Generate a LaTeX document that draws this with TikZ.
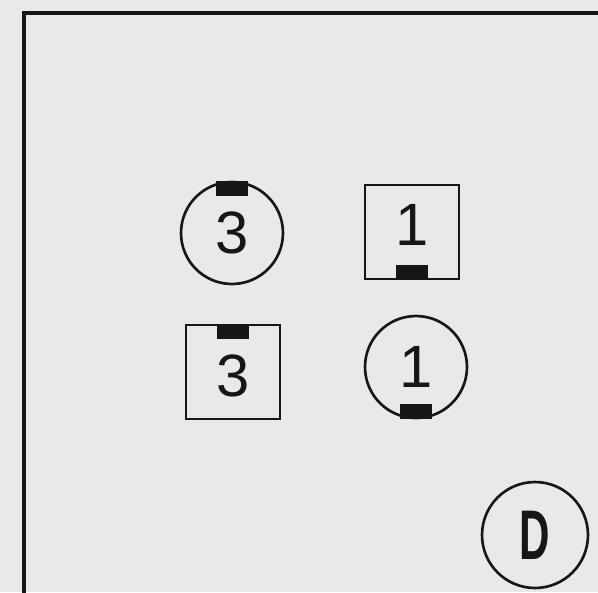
\documentclass[tikz,border=0pt]{standalone}
\usepackage{fontspec}
\setmainfont{Liberation Sans}
\usepackage{tikz}
\usetikzlibrary{positioning}
\definecolor{paper}{RGB}{233,233,233}
\definecolor{ink}{RGB}{22,22,22}
\tikzset{
  rnd/.style={circle, draw=ink, line width=1.5pt, minimum size=2.04cm, inner sep=0pt},
  sqr/.style={rectangle, draw=ink, line width=1.5pt, minimum size=1.88cm, inner sep=0pt},
  tab/.style={rectangle, fill=ink, minimum width=0.64cm, minimum height=0.3cm, inner sep=0pt},
  num/.style={font=\fontsize{34}{34}\selectfont, text=ink, inner sep=0pt},
  frm/.style={draw=ink, line width=2.2pt}
}

\begin{document}
\begin{tikzpicture}[x=0.02cm, y=-0.02cm]
        \fill[paper] (0,0) rectangle (598,592);
        \useasboundingbox (0,0) rectangle (598,592);
        \draw[frm] (24,598) -- (24,13) -- (598,13);
        % tokens
        \node[rnd] (c3) at (232,233) {};
        \node[sqr] (s1) at (412,232) {};
        \node[sqr] (s3) at (233,372) {};
        \node[rnd] (c1) at (416,367) {};
        \node[rnd, minimum size=2.12cm] (d) at (535,535) {};
        \node[tab, anchor=north] (t1) at (c3.north) {};
        \node[tab, anchor=south] (t2) at (s1.south) {};
        \node[tab, anchor=north] (t3) at (s3.north) {};
        \node[tab, anchor=south] (t4) at (c1.south) {};
        \node[num] (n1) at (c3.center) {3};
        \node[num] (n2) at ([yshift=4]s1.center) {1};
        \node[num] (n3) at ([yshift=-2]s3.center) {3};
        \node[num] (n4) at (c1.center) {1};
        \node[num, font=\fontsize{40}{40}\selectfont] (n5) at (d.center) {\scalebox{0.6}[1]{\bfseries D}};
      \end{tikzpicture}
\end{document}
